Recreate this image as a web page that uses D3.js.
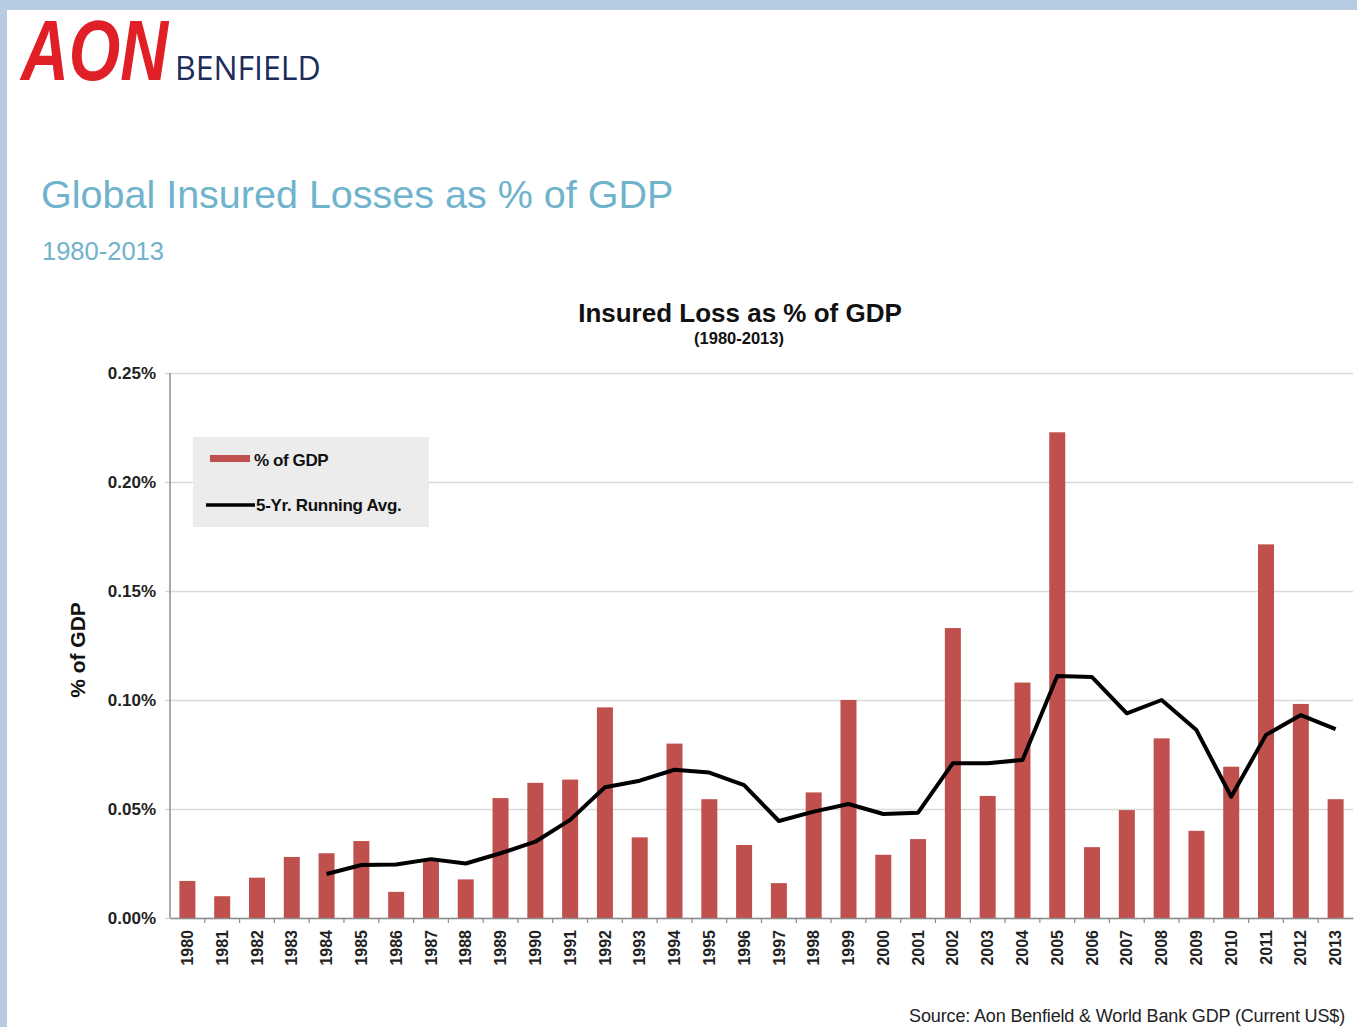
<!DOCTYPE html>
<html>
<head>
<meta charset="utf-8">
<script src="https://cdn.jsdelivr.net/npm/d3@7"></script>
<style>
    html, body { margin: 0; padding: 0; background: #fff; }
    svg { display: block; }
    text { font-family: "Liberation Sans", Arial, sans-serif; }
</style>
</head>
<body>
<svg id="chart"></svg>
<script>
const width = 1357;
const height = 1027;

const years = [1980, 1981, 1982, 1983, 1984, 1985, 1986, 1987, 1988, 1989,
    1990, 1991, 1992, 1993, 1994, 1995, 1996, 1997, 1998, 1999,
    2000, 2001, 2002, 2003, 2004, 2005, 2006, 2007, 2008, 2009,
    2010, 2011, 2012, 2013];

// insured loss as % of GDP (bars)
const pctGdp = [0.017, 0.010, 0.0185, 0.028, 0.0297, 0.0353, 0.012, 0.027, 0.0177, 0.055,
    0.062, 0.0635, 0.0966, 0.037, 0.080, 0.0545, 0.0335, 0.016, 0.0576, 0.100,
    0.029, 0.0362, 0.133, 0.056, 0.108, 0.2228, 0.0325, 0.0495, 0.0824, 0.040,
    0.0694, 0.1714, 0.0982, 0.0545];

// 5-yr running average (starts in 1984)
const runningAvg = [null, null, null, null, 0.0202, 0.0243, 0.0245, 0.027, 0.025, 0.0297,
    0.035, 0.045, 0.060, 0.063, 0.068, 0.0667, 0.061, 0.0445, 0.0488, 0.0523,
    0.0477, 0.0483, 0.071, 0.071, 0.0725, 0.111, 0.1105, 0.0939, 0.100, 0.0862,
    0.0556, 0.084, 0.0931, 0.0866];

const yTicks = [0, 0.05, 0.10, 0.15, 0.20, 0.25];

const renderChart = () => {
    const svg = d3.select('#chart')
        .attr('width', width)
        .attr('height', height);

    // light blue slide frame
    svg.append('rect').attr('x', 0).attr('y', 0).attr('width', width).attr('height', 10).attr('fill', '#b7cce3');
    svg.append('rect').attr('x', 0).attr('y', 0).attr('width', 7).attr('height', height).attr('fill', '#b7cce3');

    // logo
    svg.append('text')
        .attr('transform', 'translate(21,80) scale(0.77,1)')
        .attr('font-size', 86)
        .attr('font-weight', 'bold')
        .attr('font-style', 'italic')
        .attr('fill', '#e01f26')
        .text('AON');
    svg.append('text')
        .attr('x', 175).attr('y', 80)
        .attr('font-size', 32)
        .style('font-family', '"Open Sans", sans-serif')
        .attr('fill', '#1d2b5a')
        .text('BENFIELD');

    // slide title
    svg.append('text')
        .attr('x', 41).attr('y', 208)
        .attr('font-size', 39.5)
        .attr('fill', '#6fb3cc')
        .text('Global Insured Losses as % of GDP');
    svg.append('text')
        .attr('x', 42).attr('y', 260)
        .attr('font-size', 25.5)
        .attr('fill', '#6fb3cc')
        .text('1980-2013');

    // chart title
    svg.append('text')
        .attr('x', 740).attr('y', 322)
        .attr('text-anchor', 'middle')
        .attr('font-size', 26)
        .attr('font-weight', 'bold')
        .attr('fill', '#111')
        .text('Insured Loss as % of GDP');
    svg.append('text')
        .attr('x', 739).attr('y', 344)
        .attr('text-anchor', 'middle')
        .attr('font-size', 16.5)
        .attr('font-weight', 'bold')
        .attr('fill', '#111')
        .text('(1980-2013)');

    const margin = { left: 170, right: 1353, top: 373, bottom: 918 };

    const x = d3.scaleBand()
        .domain(years)
        .range([margin.left, margin.right])
        .paddingInner(0.54)
        .paddingOuter(0.27);

    const y = d3.scaleLinear()
        .domain([0, 0.25])
        .range([margin.bottom, margin.top]);

    // gridlines + y axis
    const yAxis = d3.axisLeft(y)
        .tickValues(yTicks)
        .tickSize(-(margin.right - margin.left))
        .tickPadding(14)
        .tickFormat(d => d.toFixed(2) + '%');

    const gy = svg.append('g')
        .attr('transform', `translate(${margin.left},0)`)
        .call(yAxis);
    gy.select('.domain').remove();
    gy.selectAll('.tick line')
        .attr('x1', -5)
        .attr('stroke', '#d9d9d9')
        .attr('stroke-width', 1.5);
    gy.selectAll('.tick text')
        .attr('font-size', 17)
        .attr('font-weight', 'bold')
        .attr('fill', '#222')
        .style('font-family', '"Liberation Sans", Arial, sans-serif');

    svg.append('line')
        .attr('x1', margin.left).attr('x2', margin.left)
        .attr('y1', margin.top).attr('y2', margin.bottom)
        .attr('stroke', '#8c8c8c')
        .attr('stroke-width', 1.5);

    // y axis title
    svg.append('text')
        .attr('transform', 'translate(85,650) rotate(-90)')
        .attr('text-anchor', 'middle')
        .attr('font-size', 21)
        .attr('font-weight', 'bold')
        .attr('fill', '#111')
        .text('% of GDP');

    // bars
    svg.selectAll('.bar')
        .data(years)
        .enter().append('rect')
        .attr('class', 'bar')
        .attr('x', d => x(d))
        .attr('y', (d, i) => y(pctGdp[i]))
        .attr('width', x.bandwidth())
        .attr('height', (d, i) => y(0) - y(pctGdp[i]))
        .attr('fill', '#c0504d');

    // x axis
    const xAxis = d3.axisBottom(x).tickSize(0).tickPadding(12);
    const gx = svg.append('g')
        .attr('transform', `translate(0,${margin.bottom})`)
        .call(xAxis);
    gx.select('.domain')
        .attr('stroke', '#8c8c8c')
        .attr('stroke-width', 1.5);
    gx.selectAll('.tick text')
        .attr('transform', 'rotate(-90)')
        .attr('text-anchor', 'end')
        .attr('dy', '0.35em')
        .attr('x', -12)
        .attr('y', 0)
        .attr('font-size', 16)
        .attr('font-weight', 'bold')
        .attr('fill', '#222')
        .style('font-family', '"Liberation Sans", Arial, sans-serif');

    // small ticks between categories
    svg.selectAll('.sep')
        .data(years.slice(1))
        .enter().append('line')
        .attr('class', 'sep')
        .attr('x1', d => x(d) - x.step() * x.paddingInner() / 2)
        .attr('x2', d => x(d) - x.step() * x.paddingInner() / 2)
        .attr('y1', margin.bottom)
        .attr('y2', margin.bottom + 5)
        .attr('stroke', '#8c8c8c')
        .attr('stroke-width', 1.2);

    // running average line
    const line = d3.line()
        .defined(d => d.v != null)
        .x(d => x(d.year) + x.bandwidth() / 2)
        .y(d => y(d.v));

    svg.append('path')
        .datum(years.map((yr, i) => ({ year: yr, v: runningAvg[i] })))
        .attr('d', line)
        .attr('fill', 'none')
        .attr('stroke', '#000')
        .attr('stroke-width', 4)
        .attr('stroke-linejoin', 'round');

    // legend
    const legend = svg.append('g');
    legend.append('rect')
        .attr('x', 193).attr('y', 437)
        .attr('width', 236).attr('height', 90)
        .attr('fill', '#ececec');
    legend.append('rect')
        .attr('x', 210).attr('y', 455)
        .attr('width', 40).attr('height', 7)
        .attr('fill', '#c0504d');
    legend.append('text')
        .attr('x', 254).attr('y', 466)
        .attr('font-size', 17)
        .attr('font-weight', 'bold')
        .attr('letter-spacing', -0.4)
        .attr('fill', '#111')
        .text('% of GDP');
    legend.append('line')
        .attr('x1', 206).attr('x2', 255)
        .attr('y1', 505).attr('y2', 505)
        .attr('stroke', '#000')
        .attr('stroke-width', 3.5);
    legend.append('text')
        .attr('x', 256).attr('y', 511)
        .attr('font-size', 17)
        .attr('font-weight', 'bold')
        .attr('letter-spacing', -0.3)
        .attr('fill', '#111')
        .text('5-Yr. Running Avg.');

    // source
    svg.append('text')
        .attr('x', 1345).attr('y', 1022)
        .attr('text-anchor', 'end')
        .attr('font-size', 18)
        .attr('letter-spacing', -0.15)
        .attr('fill', '#222')
        .text('Source: Aon Benfield & World Bank GDP (Current US$)');
};

document.addEventListener('DOMContentLoaded', () => {
    renderChart();
});
</script>
</body>
</html>
